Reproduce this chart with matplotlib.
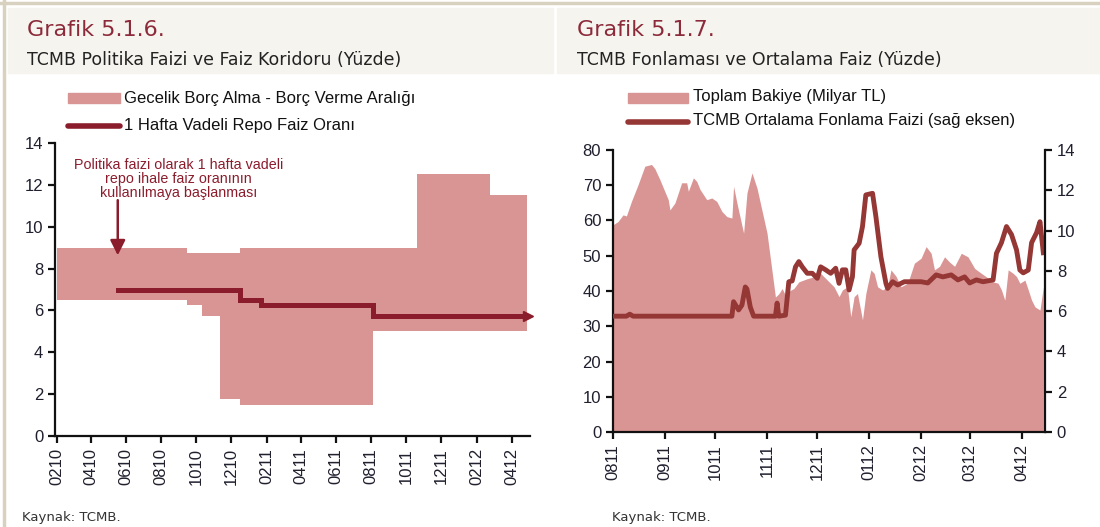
import matplotlib
matplotlib.use("Agg")
import matplotlib.pyplot as plt
import matplotlib.dates as mdates
import pandas as pd
from matplotlib.patches import Rectangle
from matplotlib.lines import Line2D

# ---------------- Data: Grafik 5.1.6 ----------------
corridor_dates = ["2010-02-01", "2010-09-16", "2010-10-12", "2010-11-11", "2010-12-16",
                  "2011-08-05", "2011-10-20", "2012-02-23", "2012-04-28"]
corridor_lower = [6.5, 6.25, 5.75, 1.75, 1.5, 5.0, 5.0, 5.0, 5.0]
corridor_upper = [9.0, 8.75, 8.75, 8.75, 9.0, 9.0, 12.5, 11.5, 11.5]
repo_dates = ["2010-05-18", "2010-12-16", "2011-01-21", "2011-08-05", "2012-04-30"]
repo_rate = [7.0, 6.5, 6.25, 5.75, 5.75]

# ---------------- Data: Grafik 5.1.7 ----------------
balance_dates = ["2011-08-01", "2011-08-04", "2011-08-07", "2011-08-09", "2011-08-12", "2011-08-16",
                 "2011-08-20", "2011-08-24", "2011-08-26", "2011-08-29", "2011-09-03", "2011-09-04",
                 "2011-09-07", "2011-09-11", "2011-09-14", "2011-09-15", "2011-09-18", "2011-09-20",
                 "2011-09-22", "2011-09-26", "2011-09-29", "2011-10-02", "2011-10-05", "2011-10-08",
                 "2011-10-11", "2011-10-12", "2011-10-14", "2011-10-18", "2011-10-20", "2011-10-23",
                 "2011-10-26", "2011-11-01", "2011-11-06", "2011-11-08", "2011-11-10", "2011-11-12",
                 "2011-11-15", "2011-11-17", "2011-11-20", "2011-11-25", "2011-11-29", "2011-12-03",
                 "2011-12-07", "2011-12-11", "2011-12-14", "2011-12-16", "2011-12-19", "2011-12-21",
                 "2011-12-23", "2011-12-25", "2011-12-28", "2011-12-30", "2012-01-02", "2012-01-04",
                 "2012-01-06", "2012-01-09", "2012-01-12", "2012-01-14", "2012-01-17", "2012-01-20",
                 "2012-01-24", "2012-01-28", "2012-02-01", "2012-02-04", "2012-02-07", "2012-02-09",
                 "2012-02-12", "2012-02-15", "2012-02-18", "2012-02-21", "2012-02-25", "2012-02-29",
                 "2012-03-04", "2012-03-08", "2012-03-11", "2012-03-15", "2012-03-18", "2012-03-20",
                 "2012-03-22", "2012-03-24", "2012-03-27", "2012-03-29", "2012-03-31", "2012-04-03",
                 "2012-04-05", "2012-04-07", "2012-04-09", "2012-04-12", "2012-04-14"]
balance_values = [58.8, 59.7, 61.6, 61.3, 65.4, 70.2,
                  75.4, 75.9, 74.7, 71.6, 65.9, 63.0,
                  65.0, 70.7, 70.7, 68.3, 72.1, 71.1,
                  68.8, 65.9, 66.4, 65.4, 62.6, 61.1,
                  60.7, 69.7, 65.0, 56.4, 67.8, 73.5,
                  69.2, 56.4, 38.3, 39.2, 40.7, 38.8,
                  40.2, 40.7, 42.6, 43.5, 44.0, 45.0,
                  43.1, 41.2, 38.4, 40.3, 41.2, 32.7,
                  38.4, 39.3, 31.8, 39.3, 46.0, 45.0,
                  41.2, 40.3, 41.2, 46.0, 44.2, 41.2,
                  42.2, 47.9, 49.3, 52.6, 50.7, 46.0,
                  47.0, 49.7, 48.2, 47.0, 50.7, 49.7,
                  46.4, 45.0, 44.0, 42.6, 42.2, 40.3,
                  37.4, 46.0, 45.0, 44.1, 42.2, 43.1,
                  40.3, 37.4, 35.5, 34.6, 41.2]

funding_dates = ["2011-08-01", "2011-08-09", "2011-08-11", "2011-08-13", "2011-10-11", "2011-10-12",
                 "2011-10-15", "2011-10-17", "2011-10-19", "2011-10-20", "2011-10-22", "2011-10-24",
                 "2011-11-06", "2011-11-07", "2011-11-08", "2011-11-12", "2011-11-14", "2011-11-16",
                 "2011-11-18", "2011-11-20", "2011-11-22", "2011-11-25", "2011-11-28", "2011-12-01",
                 "2011-12-03", "2011-12-06", "2011-12-09", "2011-12-12", "2011-12-14", "2011-12-16",
                 "2011-12-18", "2011-12-20", "2011-12-22", "2011-12-23", "2011-12-26", "2011-12-28",
                 "2011-12-30", "2012-01-03", "2012-01-05", "2012-01-08", "2012-01-11", "2012-01-12",
                 "2012-01-15", "2012-01-18", "2012-01-22", "2012-02-01", "2012-02-05", "2012-02-10",
                 "2012-02-14", "2012-02-19", "2012-02-23", "2012-02-27", "2012-03-01", "2012-03-05",
                 "2012-03-09", "2012-03-15", "2012-03-17", "2012-03-20", "2012-03-23", "2012-03-26",
                 "2012-03-29", "2012-03-31", "2012-04-02", "2012-04-05", "2012-04-07", "2012-04-10",
                 "2012-04-12", "2012-04-14"]
funding_rate = [5.75, 5.75, 5.85, 5.75, 5.75, 6.47,
                6.06, 6.3, 7.2, 7.1, 6.2, 5.75,
                5.75, 6.4, 5.75, 5.8, 7.46, 7.5,
                8.2, 8.46, 8.2, 7.88, 7.88, 7.63,
                8.2, 8.05, 7.88, 8.13, 7.38, 8.05,
                8.05, 7.05, 7.71, 9.04, 9.37, 10.2,
                11.77, 11.85, 10.7, 8.7, 7.38, 7.13,
                7.46, 7.3, 7.46, 7.46, 7.4, 7.8,
                7.7, 7.8, 7.55, 7.7, 7.4, 7.55,
                7.46, 7.55, 8.87, 9.4, 10.2, 9.8,
                9.04, 8.04, 7.9, 8.04, 9.4, 9.9,
                10.44, 8.9]

left_ylim = (0, 14)
right_ylim_left = (0, 80)
right_ylim_right = (0, 14)

# ---------------- Style ----------------
W, H = 1100, 527
BAND = "#D99594"
REPO = "#8B1C2C"
FUND = "#953735"
TITLE_RED = "#8C2A3A"
TICK_COL = "#1F1F2E"
HEAD_BG = "#F6F4EF"
BORDER = "#D9D1BF"

fig = plt.figure(figsize=(W / 100, H / 100), dpi=100)
fig.patch.set_facecolor("white")


def fx(x):
    return x / W


def fy(y):
    return 1 - y / H


# borders and header boxes
fig.add_artist(Line2D([0, 1], [fy(3), fy(3)], color=BORDER, lw=2.5, transform=fig.transFigure))
fig.add_artist(Line2D([fx(4), fx(4)], [0, 1], color=BORDER, lw=2.5, transform=fig.transFigure))
fig.add_artist(Rectangle((fx(8), fy(73)), fx(553 - 8), (73 - 8) / H, color=HEAD_BG,
                         transform=fig.transFigure, zorder=0))
fig.add_artist(Rectangle((fx(557), fy(73)), fx(1100 - 557), (73 - 8) / H, color=HEAD_BG,
                         transform=fig.transFigure, zorder=0))

title_font = ["DejaVu Sans"]
fig.text(fx(27), fy(30), "Grafik 5.1.6.", color=TITLE_RED, fontsize=16, family=title_font,
         va="center", ha="left")
fig.text(fx(27), fy(60), "TCMB Politika Faizi ve Faiz Koridoru (Yüzde)", color="#222222",
         fontsize=12.5, family=title_font, va="center", ha="left")
fig.text(fx(577), fy(30), "Grafik 5.1.7.", color=TITLE_RED, fontsize=16, family=title_font,
         va="center", ha="left")
fig.text(fx(577), fy(60), "TCMB Fonlaması ve Ortalama Faiz (Yüzde)", color="#222222",
         fontsize=12.5, family=title_font, va="center", ha="left")

fig.text(fx(22), fy(517), "Kaynak: TCMB.", color="#333333", fontsize=9.5, family=title_font,
         va="center", ha="left")
fig.text(fx(612), fy(517), "Kaynak: TCMB.", color="#333333", fontsize=9.5, family=title_font,
         va="center", ha="left")

# legends (manual)
LEG_FONT = ["Liberation Sans"]
LEG_SIZE = 12
fig.add_artist(Rectangle((fx(68), fy(103)), fx(52), 10 / H, color=BAND, transform=fig.transFigure))
fig.text(fx(124), fy(98), "Gecelik Borç Alma - Borç Verme Aralığı", fontsize=LEG_SIZE,
         family=LEG_FONT, va="center", ha="left", color="#111111")
fig.add_artist(Line2D([fx(68), fx(120)], [fy(126), fy(126)], color=REPO, lw=4,
                      solid_capstyle="round", transform=fig.transFigure))
fig.text(fx(124), fy(126), "1 Hafta Vadeli Repo Faiz Oranı", fontsize=LEG_SIZE,
         family=LEG_FONT, va="center", ha="left", color="#111111")

fig.add_artist(Rectangle((fx(628), fy(103)), fx(60), 10 / H, color=BAND, transform=fig.transFigure))
fig.text(fx(693), fy(97), "Toplam Bakiye (Milyar TL)", fontsize=LEG_SIZE, family=LEG_FONT,
         va="center", ha="left", color="#111111")
fig.add_artist(Line2D([fx(628), fx(688)], [fy(122), fy(122)], color=FUND, lw=4,
                      solid_capstyle="round", transform=fig.transFigure))
fig.text(fx(693), fy(120), "TCMB Ortalama Fonlama Faizi (sağ eksen)", fontsize=LEG_SIZE,
         family=LEG_FONT, va="center", ha="left", color="#111111")

TICK_FONT = ["Liberation Sans"]
TICK_SIZE = 12


def style_axis(ax):
    for s in ["top", "right"]:
        ax.spines[s].set_visible(False)
    for s in ["left", "bottom"]:
        ax.spines[s].set_linewidth(1.6)
        ax.spines[s].set_color("#111111")
    ax.tick_params(axis="both", direction="out", length=5, width=1.6, color="#111111",
                   labelsize=TICK_SIZE, labelcolor=TICK_COL)
    for lab in ax.get_xticklabels() + ax.get_yticklabels():
        lab.set_family(TICK_FONT)


# ---------------- Left chart ----------------
axL = fig.add_axes([fx(55), fy(436), fx(530 - 55), (436 - 143) / H])
cd = pd.to_datetime(corridor_dates)
axL.fill_between(cd, corridor_lower, corridor_upper, step="post", color=BAND, lw=0)
rd = pd.to_datetime(repo_dates)
axL.step(rd, repo_rate, where="post", color=REPO, lw=3.6, solid_joinstyle="miter")
axL.plot(rd[-1:], repo_rate[-1:], marker=">", color=REPO, markersize=7, lw=0, clip_on=False)
axL.set_ylim(*left_ylim)
axL.set_yticks(range(0, 15, 2))
axL.set_xlim(pd.Timestamp("2010-01-29"), pd.Timestamp("2012-05-03"))
axL.xaxis.set_major_locator(mdates.MonthLocator(bymonth=[2, 4, 6, 8, 10, 12]))
axL.xaxis.set_major_formatter(mdates.DateFormatter("%m%y"))
style_axis(axL)
plt.setp(axL.get_xticklabels(), rotation=90, ha="center", va="top")

ann_date = pd.Timestamp("2010-05-18")
axL.annotate("", xy=(ann_date, 8.5), xytext=(ann_date, 11.4),
             arrowprops=dict(arrowstyle="-|>,head_width=0.45,head_length=0.9", color=REPO, lw=1.8))
axL.text(pd.Timestamp("2010-09-01"), 12.3,
         "Politika faizi olarak 1 hafta vadeli\nrepo ihale faiz oranının\nkullanılmaya başlanması",
         color=REPO, fontsize=10.3, family=["Liberation Sans Narrow", "Liberation Sans"],
         ha="center", va="center", linespacing=1.0)

# ---------------- Right chart ----------------
axR = fig.add_axes([fx(613), fy(432), fx(1045 - 613), (432 - 150) / H])
bd = pd.to_datetime(balance_dates)
axR.fill_between(bd, 0, balance_values, color=BAND, lw=0)
axR.set_ylim(*right_ylim_left)
axR.set_yticks(range(0, 81, 10))
axR.set_xlim(pd.Timestamp("2011-08-01"), pd.Timestamp("2012-04-15"))
axR.xaxis.set_major_locator(mdates.MonthLocator())
axR.xaxis.set_major_formatter(mdates.DateFormatter("%m%y"))
style_axis(axR)
plt.setp(axR.get_xticklabels(), rotation=90, ha="center", va="top")

axR2 = axR.twinx()
fdt = pd.to_datetime(funding_dates)
axR2.plot(fdt, funding_rate, color=FUND, lw=3.5, solid_joinstyle="round")
axR2.set_ylim(*right_ylim_right)
axR2.set_yticks(range(0, 15, 2))
for s in ["top", "left", "bottom"]:
    axR2.spines[s].set_visible(False)
axR2.spines["right"].set_linewidth(1.6)
axR2.spines["right"].set_color("#111111")
axR2.tick_params(axis="y", direction="out", length=5, width=1.6, color="#111111",
                 labelsize=TICK_SIZE, labelcolor=TICK_COL)
for lab in axR2.get_yticklabels():
    lab.set_family(TICK_FONT)

fig.savefig("out.png", dpi=100)
